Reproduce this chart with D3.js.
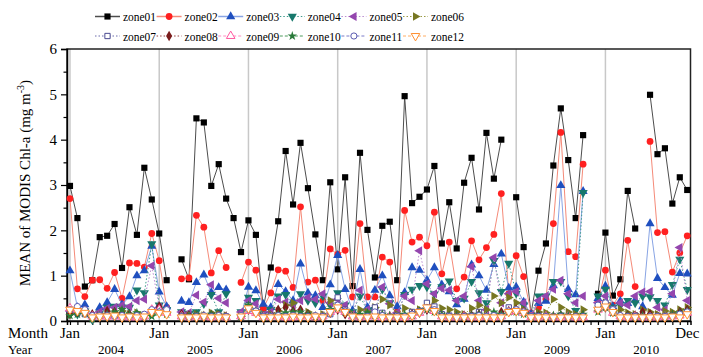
<!DOCTYPE html>
<html>
<head>
<meta charset="utf-8">
<script src="https://cdn.jsdelivr.net/npm/d3@7"></script>
<style>
  body { margin: 0; background: #fff; }
  svg { display: block; font-family: "Liberation Serif", "Times New Roman", serif; }
</style>
</head>
<body>
<div id="chart"></div>
<script>
// Categories
const years = [2004, 2005, 2006, 2007, 2008, 2009, 2010];
const monthNames = ["Jan","Feb","Mar","Apr","May","Jun","Jul","Aug","Sep","Oct","Nov","Dec"];
const zones = ["zone01","zone02","zone03","zone04","zone05","zone06",
               "zone07","zone08","zone09","zone10","zone11","zone12"];
const yTicks = [0, 1, 2, 3, 4, 5, 6];

// Series values (Jan 2004 .. Dec 2010), null = no data
const zone01 = [
  2.98, 2.27, 0.76, 0.90, 1.85, 1.88, 2.14, 1.17, 2.51, 1.90, 3.38, 2.68,
  1.93, 0.90, null, 1.36, 0.92, 4.47, 4.38, 2.98, 3.46, 2.70, 2.27, 1.52,
  2.22, 1.90, 0.28, 1.18, 2.20, 3.75, 2.57, 3.93, 2.93, 1.91, 0.90, 3.06,
  1.14, 3.17, 0.77, 3.71, 2.01, 0.96, 2.10, 2.19, 0.90, 4.96, 2.60, 2.74,
  2.90, 3.42, 1.71, 2.62, 1.60, 3.05, 3.60, 2.46, 4.15, 3.14, 4.00, null,
  2.73, 1.63, 0.17, 1.11, 1.71, 3.43, 4.69, 3.55, 2.27, 4.10, null, 0.60,
  1.95, 0.56, 0.92, 2.87, 2.04, null, 4.99, 3.68, 3.81, 2.59, 3.17, 2.89];
const zone02 = [
  2.70, 0.71, 0.54, 0.90, 0.91, 0.72, 1.07, 0.50, 1.28, 1.27, 1.19, 1.93,
  1.33, 0.30, null, 0.93, 0.95, 2.33, 2.07, 1.06, 1.55, 1.18, null, 0.85,
  1.30, 1.12, 0.28, 0.62, 1.13, 1.10, 0.74, 2.52, 0.86, 0.90, 0.45, 1.59,
  1.47, 1.56, 0.53, 2.15, 0.53, 0.53, 1.41, 1.30, 0.20, 2.44, 1.74, 1.85,
  1.66, 2.40, 1.04, 1.74, 0.71, 0.97, 1.77, 1.35, 1.62, 1.91, 2.81, 0.60,
  1.44, 0.98, 0.18, 0.30, 0.48, 2.15, 4.16, 1.53, 1.42, 3.46, null, 0.43,
  1.12, 0.35, 0.60, 1.78, 0.76, null, 3.96, 1.95, 1.97, 1.08, 1.50, 1.88];
const zone03 = [
  1.11, 0.30, 0.36, 0.13, 0.30, 0.41, 0.70, 0.36, 0.54, 1.00, 1.11, 1.65,
  0.64, 0.32, null, 0.44, 0.41, 0.85, 1.02, 0.63, 0.74, 0.69, null, 0.11,
  0.75, 0.67, 0.37, 0.30, 0.81, 0.65, 0.45, 1.26, 0.62, 0.56, 0.30, 0.80,
  1.45, 0.70, 0.23, 1.14, 0.30, 0.68, 1.00, 0.56, 0.32, 0.63, 1.18, 1.12,
  0.90, 1.18, 0.80, 0.65, 0.36, 0.48, 1.24, 1.00, 0.68, 1.25, 1.48, 0.73,
  0.75, 0.42, 0.15, 0.39, 0.44, 0.78, 2.99, 0.70, 0.58, 2.86, null, 0.50,
  0.77, 0.32, 0.44, 0.39, 0.46, 0.32, 2.15, 0.94, 0.74, 0.57, 1.05, 1.04];
const zone04 = [
  0.17, 0.15, 0.22, 0.03, 0.18, 0.30, 0.32, 0.30, 0.30, 0.68, 0.62, 1.70,
  0.35, 0.25, null, 0.20, 0.17, 0.20, 0.38, 0.58, 0.20, 0.60, null, 0.20,
  0.52, 0.45, 0.15, 0.25, 0.55, 0.58, 0.35, 0.60, 0.45, 0.40, 0.55, 0.35,
  0.62, 0.35, 0.20, 0.55, 0.22, 0.25, 0.70, 0.40, 0.12, 0.58, 0.70, 0.78,
  0.75, 0.60, 0.75, 0.88, 0.45, 0.50, 0.87, 0.62, 0.40, 1.33, 0.65, 1.27,
  0.61, 0.35, 0.13, 0.55, 0.55, 0.87, 0.87, 0.55, 0.23, 2.83, null, 0.55,
  0.70, 0.30, 0.35, 0.45, 0.40, 0.55, 0.53, 0.45, 0.35, 0.80, 1.36, 0.69];
const zone05 = [
  0.22, 0.20, 0.20, 0.10, 0.20, 0.28, 0.30, 0.35, 0.32, 0.45, 0.48, 1.22,
  0.30, 0.25, null, 0.20, 0.18, 0.57, 0.42, 0.80, 0.50, 0.40, null, 0.20,
  0.45, 0.38, 0.12, 0.20, 0.48, 0.42, 0.35, 0.45, 0.52, 0.48, 0.60, 0.40,
  0.48, 0.35, 0.15, 0.68, 0.25, 0.22, 0.75, 0.38, 0.18, 0.55, 0.45, 1.55,
  0.82, 0.60, 0.72, 0.68, 0.45, 0.55, 1.20, 0.45, 0.25, 1.40, 0.40, 0.60,
  0.65, 0.40, 0.12, 0.45, 0.55, 0.70, 0.90, 0.60, 0.40, 0.55, null, 0.40,
  0.55, 0.25, 0.40, 0.35, 0.55, 0.64, 0.65, 0.30, 0.25, 0.60, 1.62, 0.45];
const zone06 = [
  0.15, 0.18, 0.20, 0.08, 0.12, 0.15, 0.18, 0.22, 0.15, 0.18, 0.12, 0.15,
  0.25, 0.18, null, 0.10, 0.12, 0.15, 0.12, 0.18, 0.15, 0.12, null, 0.10,
  0.30, 0.20, 0.10, 0.15, 0.22, 0.35, 0.40, 0.15, 0.20, 0.10, 0.15, 0.45,
  0.30, 0.22, 0.15, 0.25, 0.20, 0.30, 0.48, 0.35, 0.15, 0.28, 0.20, 0.25,
  0.30, 0.45, 0.28, 0.25, 0.20, 0.15, 0.28, 0.35, 0.25, 0.55, 0.40, 0.52,
  0.40, 0.25, 0.10, 0.20, 0.18, 0.48, 0.30, 0.20, 0.15, 0.25, null, 0.30,
  0.40, 0.20, 0.25, 0.18, 0.15, 0.25, 0.20, 0.15, 0.22, 0.20, 0.25, 0.30];
const zone07 = [
  0.25, 0.18, 0.15, 0.10, 0.12, 0.10, 0.12, 0.10, 0.08, 0.10, 0.10, 0.22,
  0.30, 0.20, null, 0.12, 0.10, 0.12, 0.10, 0.12, 0.10, 0.10, null, 0.10,
  0.35, 0.22, 0.10, 0.12, 0.10, 0.10, 0.12, 0.10, 0.12, 0.10, 0.10, 0.15,
  0.52, 0.25, 0.12, 0.10, 0.12, 0.30, 0.18, 0.10, 0.12, 0.10, 0.20, 0.22,
  0.40, 0.32, 0.15, 0.12, 0.10, 0.10, 0.12, 0.20, 0.10, 0.12, 0.10, 0.30,
  0.25, 0.20, 0.10, 0.12, 0.10, 0.10, 0.12, 0.10, 0.08, 0.10, null, 0.30,
  0.40, 0.20, 0.10, 0.10, 0.12, 0.10, 0.08, 0.10, 0.10, 0.12, 0.15, 0.20];
const zone08 = [
  0.15, 0.20, 0.18, 0.15, 0.10, 0.22, 0.20, 0.18, 0.15, 0.12, 0.10, 0.20,
  0.32, 0.22, null, 0.15, 0.12, 0.12, 0.10, 0.12, 0.12, 0.10, null, 0.10,
  0.25, 0.20, 0.08, 0.12, 0.25, 0.30, 0.22, 0.25, 0.15, 0.10, 0.10, 0.18,
  0.25, 0.15, 0.10, 0.10, 0.12, 0.15, 0.12, 0.10, 0.08, 0.10, 0.15, 0.18,
  0.25, 0.22, 0.10, 0.10, 0.10, 0.12, 0.12, 0.15, 0.10, 0.12, 0.20, 0.22,
  0.25, 0.20, 0.08, 0.12, 0.10, 0.10, 0.12, 0.10, 0.10, 0.12, null, 0.25,
  0.30, 0.20, 0.12, 0.12, 0.12, 0.20, 0.15, 0.10, 0.10, 0.12, 0.20, 0.25];
const zone09 = [
  0.28, 0.25, 0.22, 0.10, 0.10, 0.10, 0.10, 0.10, 0.08, 0.08, 0.10, 0.25,
  0.25, 0.18, null, 0.10, 0.08, 0.10, 0.10, 0.08, 0.10, 0.08, null, 0.10,
  0.22, 0.18, 0.08, 0.10, 0.10, 0.08, 0.08, 0.10, 0.10, 0.08, 0.10, 0.20,
  0.25, 0.20, 0.10, 0.08, 0.10, 0.10, 0.08, 0.10, 0.08, 0.08, 0.10, 0.18,
  0.25, 0.22, 0.10, 0.08, 0.08, 0.10, 0.08, 0.08, 0.10, 0.08, 0.10, 0.20,
  0.22, 0.18, 0.08, 0.08, 0.10, 0.08, 0.08, 0.10, 0.08, 0.08, null, 0.25,
  0.30, 0.18, 0.10, 0.08, 0.10, 0.08, 0.08, 0.08, 0.10, 0.10, 0.12, 0.18];
const zone10 = [
  0.12, 0.15, 0.18, 0.05, 0.12, 0.15, 0.20, 0.25, 0.15, 0.18, 0.12, 0.10,
  0.20, 0.15, null, 0.10, 0.12, 0.15, 0.12, 0.15, 0.12, 0.10, null, 0.10,
  0.35, 0.22, 0.08, 0.12, 0.15, 0.18, 0.20, 0.20, 0.15, 0.10, 0.12, 0.25,
  0.28, 0.20, 0.12, 0.15, 0.18, 0.12, 0.15, 0.12, 0.10, 0.15, 0.12, 0.22,
  0.25, 0.20, 0.15, 0.12, 0.12, 0.10, 0.12, 0.15, 0.12, 0.20, 0.15, 0.20,
  0.20, 0.15, 0.08, 0.12, 0.10, 0.12, 0.15, 0.12, 0.12, 0.15, null, 0.20,
  0.30, 0.18, 0.12, 0.12, 0.10, 0.12, 0.10, 0.10, 0.12, 0.15, 0.18, 0.22];
const zone11 = [
  0.25, 0.32, 0.25, 0.12, 0.12, 0.12, 0.10, 0.12, 0.10, 0.12, 0.15, 0.25,
  0.20, 0.25, null, 0.10, 0.08, 0.10, 0.12, 0.10, 0.12, 0.10, null, 0.12,
  0.25, 0.22, 0.10, 0.10, 0.12, 0.10, 0.12, 0.10, 0.10, 0.12, 0.10, 0.20,
  0.35, 0.22, 0.10, 0.08, 0.10, 0.20, 0.12, 0.08, 0.10, 0.10, 0.15, 0.20,
  0.30, 0.25, 0.10, 0.10, 0.08, 0.10, 0.10, 0.12, 0.10, 0.12, 0.10, 0.22,
  0.25, 0.20, 0.10, 0.10, 0.10, 0.08, 0.10, 0.08, 0.10, 0.10, null, 0.35,
  0.40, 0.25, 0.12, 0.10, 0.10, 0.08, 0.10, 0.10, 0.10, 0.10, 0.15, 0.20];
const zone12 = [
  0.25, 0.22, 0.18, 0.08, 0.10, 0.10, 0.12, 0.08, 0.10, 0.08, 0.10, 0.20,
  0.18, 0.15, null, 0.08, 0.08, 0.08, 0.10, 0.08, 0.08, 0.08, null, 0.10,
  0.28, 0.18, 0.08, 0.08, 0.08, 0.08, 0.10, 0.08, 0.08, 0.10, 0.08, 0.20,
  0.30, 0.20, 0.10, 0.08, 0.08, 0.10, 0.08, 0.08, 0.08, 0.08, 0.12, 0.20,
  0.30, 0.22, 0.08, 0.08, 0.08, 0.08, 0.08, 0.08, 0.08, 0.08, 0.08, 0.20,
  0.22, 0.18, 0.08, 0.08, 0.08, 0.08, 0.08, 0.08, 0.08, 0.08, null, 0.25,
  0.32, 0.20, 0.08, 0.08, 0.08, 0.08, 0.08, 0.08, 0.08, 0.10, 0.08, 0.15];

const seriesValues = [zone01, zone02, zone03, zone04, zone05, zone06,
                      zone07, zone08, zone09, zone10, zone11, zone12];

// Styles per zone
const styles = [
  { line: "#4d4d4d", mark: "#000000", fill: true,  sym: d3.symbolSquare,   size: 38, rot: 0,   dash: null },
  { line: "#f58a78", mark: "#ff2020", fill: true,  sym: d3.symbolCircle,   size: 36, rot: 0,   dash: null },
  { line: "#88a4e4", mark: "#1f4fbf", fill: true,  sym: d3.symbolTriangle, size: 36, rot: 0,   dash: null },
  { line: "#3e9a8c", mark: "#17786c", fill: true,  sym: d3.symbolTriangle, size: 36, rot: 180, dash: "1.5,2" },
  { line: "#b98bd0", mark: "#9446ae", fill: true,  sym: d3.symbolTriangle, size: 36, rot: -90, dash: "1.5,2" },
  { line: "#9a9a45", mark: "#777722", fill: true,  sym: d3.symbolTriangle, size: 32, rot: 90,  dash: "1.5,2" },
  { line: "#6a6aaa", mark: "#4a4a90", fill: false, sym: d3.symbolSquare,   size: 28, rot: 0,   dash: "1.5,2" },
  { line: "#964040", mark: "#7a1c1c", fill: true,  sym: d3.symbolDiamond,  size: 32, rot: 0,   dash: "1.5,2" },
  { line: "#ff8cc0", mark: "#ff5aa0", fill: false, sym: d3.symbolTriangle, size: 32, rot: 0,   dash: "3,2" },
  { line: "#4a9a5a", mark: "#2a7a3a", fill: true,  sym: d3.symbolStar,     size: 28, rot: 0,   dash: "3,2" },
  { line: "#7a7ac8", mark: "#5a5ab0", fill: false, sym: d3.symbolCircle,   size: 30, rot: 0,   dash: "3,2" },
  { line: "#ffae66", mark: "#ff9030", fill: false, sym: d3.symbolTriangle, size: 32, rot: 180, dash: "3,2" }
];

const width = 703, height = 357;
const plot = { left: 67, right: 690.5, top: 49, bottom: 321 };

const svg = d3.select("#chart").append("svg")
  .attr("width", width).attr("height", height);

const x = d3.scaleLinear().domain([-0.4, 83.44]).range([plot.left, plot.right]);
const y = d3.scaleLinear().domain([0, 6]).range([plot.bottom, plot.top]);

// Jan gridlines
svg.append("g").selectAll("line")
  .data(years)
  .join("line")
  .attr("x1", (d, i) => x(i * 12)).attr("x2", (d, i) => x(i * 12))
  .attr("y1", plot.top).attr("y2", plot.bottom)
  .attr("stroke", "#c8c8c8").attr("stroke-width", 1.5);

// Frame
svg.append("rect")
  .attr("x", plot.left).attr("y", plot.top)
  .attr("width", plot.right - plot.left).attr("height", plot.bottom - plot.top)
  .attr("fill", "none").attr("stroke", "#222").attr("stroke-width", 1.5);

// Y axis
const yAxis = d3.axisLeft(y).tickValues(yTicks).tickSize(6).tickFormat(d3.format("d"));
const gy = svg.append("g").attr("transform", `translate(${plot.left},0)`).call(yAxis);
gy.select(".domain").attr("stroke", "#000").attr("stroke-width", 1.5);
gy.selectAll(".tick line").attr("stroke", "#000").attr("stroke-width", 1.2);
gy.selectAll(".tick text").attr("font-size", 15).attr("font-family", "Liberation Serif").attr("fill", "#000").attr("dx", -1);
const yMinor = d3.axisLeft(y).tickValues(d3.range(0.5, 6, 1)).tickSize(3.5).tickFormat("");
const gyMinor = svg.append("g").attr("transform", `translate(${plot.left},0)`).call(yMinor);
gyMinor.select(".domain").remove();
gyMinor.selectAll(".tick line").attr("stroke", "#000").attr("stroke-width", 1.2);

// X axis: month ticks
const allMonths = d3.range(years.length * 12);
const xAxis = d3.axisBottom(x).tickValues(allMonths).tickSize(4).tickFormat("");
const gx = svg.append("g").attr("transform", `translate(0,${plot.bottom})`).call(xAxis);
gx.select(".domain").attr("stroke", "#000").attr("stroke-width", 1.5);
gx.selectAll(".tick line").attr("stroke", "#000").attr("stroke-width", 1.2);

// Month labels (Jan of each year, Dec at end)
const monthLabels = years.map((yr, i) => ({ i: i * 12, t: monthNames[0] }))
  .concat([{ i: years.length * 12 - 1, t: monthNames[11] }]);
svg.append("g").selectAll("text")
  .data(monthLabels)
  .join("text")
  .attr("x", d => x(d.i)).attr("y", 338)
  .attr("text-anchor", "middle").attr("font-size", 15)
  .text(d => d.t);

// Year labels (the reference crops them at the bottom edge; kept just inside)
svg.append("g").selectAll("text")
  .data(years)
  .join("text")
  .attr("x", (d, i) => x(i * 12 + 5.5)).attr("y", 354)
  .attr("text-anchor", "middle").attr("font-size", 13)
  .text(d => d);

svg.append("text").attr("x", 8).attr("y", 338).attr("font-size", 15).text("Month");
svg.append("text").attr("x", 8).attr("y", 354).attr("font-size", 13).text("Year");

// Y title
const yt = svg.append("text")
  .attr("transform", `translate(30,183) rotate(-90)`)
  .attr("text-anchor", "middle").attr("font-size", 15);
yt.append("tspan").text("MEAN of MODIS Chl-a (mg m");
yt.append("tspan").attr("font-size", 10).attr("dy", -6).text("-3");
yt.append("tspan").attr("dy", 6).text(")");

// Series
const line = d3.line()
  .defined(d => d.v != null)
  .x(d => x(d.i)).y(d => y(d.v));

function symbolPath(st) {
  return d3.symbol().type(st.sym).size(st.size)();
}

const seriesData = seriesValues.map(vals => vals.map((v, i) => ({ i, v })));

seriesData.forEach((pts, k) => {
  const st = styles[k];
  const g = svg.append("g");
  g.append("path")
    .attr("d", line(pts))
    .attr("fill", "none")
    .attr("stroke", st.line)
    .attr("stroke-width", 1)
    .attr("stroke-dasharray", st.dash);
  g.selectAll("path.mk")
    .data(pts.filter(d => d.v != null))
    .join("path")
    .attr("class", "mk")
    .attr("d", symbolPath(st))
    .attr("transform", d => `translate(${x(d.i)},${y(d.v)}) rotate(${st.rot})`)
    .attr("fill", st.fill ? st.mark : "#fff")
    .attr("stroke", st.mark)
    .attr("stroke-width", st.fill ? 0 : 1);
});

// Legend
const legend = svg.append("g");
zones.forEach((name, k) => {
  const st = styles[k];
  const row = Math.floor(k / 6), col = k % 6;
  const lx = 95 + col * 61.6, ly = row === 0 ? 16.5 : 36;
  const item = legend.append("g");
  item.append("line")
    .attr("x1", lx).attr("x2", lx + 25).attr("y1", ly).attr("y2", ly)
    .attr("stroke", st.line).attr("stroke-width", st.dash ? 1 : 1.5)
    .attr("stroke-dasharray", st.dash);
  item.append("path")
    .attr("d", symbolPath(st))
    .attr("transform", `translate(${lx + 12.5},${ly}) rotate(${st.rot})`)
    .attr("fill", st.fill ? st.mark : "#fff")
    .attr("stroke", st.mark).attr("stroke-width", st.fill ? 0 : 1);
  item.append("text")
    .attr("x", lx + 28).attr("y", ly + 4.5)
    .attr("font-size", 13.5)
    .attr("textLength", 33).attr("lengthAdjust", "spacingAndGlyphs")
    .text(name);
});
</script>
</body>
</html>
